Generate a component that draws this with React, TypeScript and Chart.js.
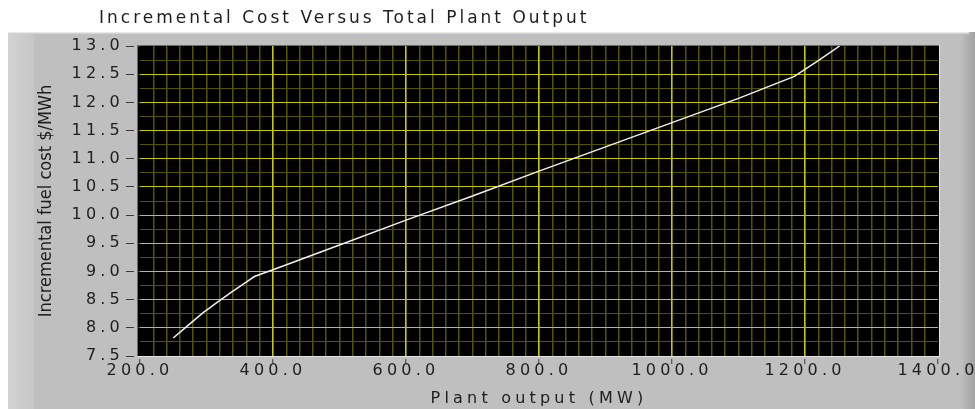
import React, { useEffect, useRef } from 'react';
import { Chart, registerables, layouts } from 'chart.js';

Chart.register(...registerables);

// ---- data ----
const outputMW = [250, 270, 295, 317, 337, 357, 372, 400, 500, 600, 700, 800, 900, 1000, 1100, 1184, 1220, 1252];
const incrementalCost = [7.82, 8.02, 8.27, 8.46, 8.63, 8.79, 8.91, 9.03, 9.47, 9.91, 10.34, 10.78, 11.21, 11.64, 12.07, 12.46, 12.74, 13.0];
const xTicks = [200, 400, 600, 800, 1000, 1200, 1400];
const yTicks = [7.5, 8.0, 8.5, 9.0, 9.5, 10.0, 10.5, 11.0, 11.5, 12.0, 12.5, 13.0];
const chartTitle = 'Incremental Cost Versus Total Plant Output';
const xTitle = 'Plant output (MW)';
const yTitle = 'Incremental fuel cost $/MWh';

// ---- styles ----
const FONT = "'DejaVu Sans', sans-serif";
const TEXT = '#1e1e1e';
const PANEL = '#bfbfbf';
const MAJOR = '#c8c800';
const MINOR = '#555500';
const TICK = '#3a3a3a';
const CLEAR = 'rgba(0,0,0,0)';
const TITLE_SPACING = '3px';
const AXIS_SPACING = '4.2px';

const xMin = xTicks[0];
const xMax = xTicks[xTicks.length - 1];
const yMin = yTicks[0];
const yMax = yTicks[yTicks.length - 1];

const isEdge = (v: number, lo: number, hi: number) => Math.abs(v - lo) < 1e-9 || Math.abs(v - hi) < 1e-9;

const panelPlugin: any = {
  id: 'panelLook',
  beforeInit(chart: any) {
    const box: any = {
      position: 'chartArea',
      options: {},
      weight: 0,
      fullSize: false,
      top: 0, left: 0, right: 0, bottom: 0, width: 0, height: 0,
      isHorizontal() { return true; },
      update() {},
      draw() {},
      _layers() {
        return [{ z: -0.5, draw() { chart.ctx.letterSpacing = TITLE_SPACING; } }];
      },
    };
    layouts.addBox(chart, box);
  },
  afterLayout(chart: any) {
    if (chart.titleBlock) {
      chart.titleBlock.left = 99;
      chart.titleBlock.right = chart.width;
    }
  },
  beforeDraw(chart: any) {
    const { ctx, width, height } = chart;
    const a = chart.chartArea;
    ctx.save();
    ctx.fillStyle = '#ffffff';
    ctx.fillRect(0, 0, width, height);
    ctx.fillStyle = PANEL;
    ctx.fillRect(8, 32, width - 8, height - 32);
    let g = ctx.createLinearGradient(8, 0, 34, 0);
    g.addColorStop(0, '#d3d3d3');
    g.addColorStop(1, '#c6c6c6');
    ctx.fillStyle = g;
    ctx.fillRect(8, 32, 26, height - 32);
    g = ctx.createLinearGradient(963, 0, width, 0);
    g.addColorStop(0, '#b9b9b9');
    g.addColorStop(1, '#a2a2a2');
    ctx.fillStyle = g;
    ctx.fillRect(963, 32, width - 963, height - 32);
    ctx.fillStyle = '#e8e8e8';
    ctx.fillRect(8, 32, width - 14, 1);
    ctx.fillStyle = '#d2d2d2';
    ctx.fillRect(8, 33, width - 14, 1);
    const L = Math.round(a.left), T = Math.round(a.top), R = Math.round(a.right), B = Math.round(a.bottom);
    ctx.fillStyle = '#000000';
    ctx.fillRect(L - 2, T, R + 1 - (L - 2), B - T);
    ctx.restore();
    ctx.letterSpacing = '0px';
  },
  beforeDatasetsDraw(chart: any) {
    const { ctx } = chart;
    const a = chart.chartArea;
    const L = Math.round(a.left), T = Math.round(a.top), R = Math.round(a.right), B = Math.round(a.bottom);
    ctx.save();
    ctx.fillStyle = PANEL;
    ctx.fillRect(L - 6, T - 6, 3, B - T + 12);
    ctx.fillRect(L - 6, B + 1, R - L + 12, 2);
    ctx.fillStyle = '#6a6a6a';
    ctx.fillRect(L - 3, T - 1, R - L + 5, 1);
    ctx.fillRect(L - 3, T - 1, 1, B - T + 2);
    ctx.fillStyle = '#e4e4e4';
    ctx.fillRect(R + 1, T - 1, 1, B - T + 2);
    ctx.fillRect(L - 3, B, R - L + 5, 1);
    ctx.restore();
  },
  afterDatasetsDraw(chart: any) {
    chart.ctx.letterSpacing = AXIS_SPACING;
  },
  afterDraw(chart: any) {
    chart.ctx.letterSpacing = '0px';
  },
};

export default function App() {
  const canvasRef = useRef<HTMLCanvasElement | null>(null);

  useEffect(() => {
    const canvas = canvasRef.current;
    if (!canvas) return;
    const points = outputMW.map((x, i) => ({ x, y: incrementalCost[i] }));
    const chart = new Chart(canvas, {
      type: 'scatter',
      data: {
        datasets: [
          {
            data: points,
            showLine: true,
            borderColor: '#f0f0f0',
            borderWidth: 1.5,
            pointRadius: 0,
            tension: 0,
          },
        ],
      },
      options: {
        responsive: false,
        devicePixelRatio: 1,
        animation: false,
        events: [],
        layout: { padding: { left: 0, right: 37, top: 0, bottom: 0 } },
        plugins: {
          legend: { display: false },
          tooltip: { enabled: false },
          title: {
            display: true,
            text: chartTitle,
            align: 'start',
            color: TEXT,
            font: { family: FONT, size: 17, weight: 'normal', lineHeight: 1.2 },
            padding: { top: 8.8, bottom: 16.8 },
          },
        },
        scales: {
          yMinor: {
            type: 'linear',
            position: 'left',
            weight: 1,
            min: yMin,
            max: yMax,
            ticks: { display: false, stepSize: 0.25 },
            grid: {
              z: -2,
              drawTicks: false,
              lineWidth: 1,
              color: (c: any) => (isEdge(c.tick.value, yMin, yMax) ? CLEAR : MINOR),
            },
            border: { display: false },
            afterFit: (s: any) => { s.width = 0; },
          },
          y: {
            type: 'linear',
            position: 'left',
            weight: 0,
            min: yMin,
            max: yMax,
            afterBuildTicks: (s: any) => { s.ticks = yTicks.map((v) => ({ value: v })); },
            ticks: {
              z: 1,
              padding: 2,
              color: TEXT,
              font: { family: FONT, size: 16, lineHeight: 1.2 },
              callback: (v: any) => Number(v).toFixed(1),
            },
            grid: {
              z: -1,
              lineWidth: 1,
              color: (c: any) => (isEdge(c.tick.value, yMin, yMax) ? CLEAR : MAJOR),
              tickColor: TICK,
              tickLength: 14,
              tickWidth: 1,
            },
            border: { display: false },
            title: {
              display: true,
              text: yTitle,
              color: TEXT,
              font: { family: "'DejaVu Sans Condensed', 'DejaVu Sans', sans-serif", size: 18, lineHeight: 1.2 },
              padding: { top: 35.2, bottom: 0 },
            },
            afterFit: (s: any) => { s.width = 140; },
          },
          x: {
            type: 'linear',
            position: 'bottom',
            weight: 0,
            min: xMin,
            max: xMax,
            afterBuildTicks: (s: any) => { s.ticks = xTicks.map((v) => ({ value: v })); },
            ticks: {
              z: 1,
              padding: -3,
              autoSkip: false,
              maxRotation: 0,
              minRotation: 0,
              color: TEXT,
              font: { family: FONT, size: 16, lineHeight: 1.2 },
              callback: (v: any) => Number(v).toFixed(1),
            },
            grid: {
              z: -1,
              lineWidth: 1.5,
              color: (c: any) => (isEdge(c.tick.value, xMin, xMax) ? CLEAR : MAJOR),
              tickColor: TICK,
              tickLength: 8,
              tickWidth: 1,
            },
            border: { display: false },
            afterFit: (s: any) => { s.height = 30; },
          },
          xMinor: {
            type: 'linear',
            position: 'bottom',
            weight: 1,
            min: xMin,
            max: xMax,
            ticks: { display: false, stepSize: 20 },
            grid: {
              z: -2,
              drawTicks: false,
              lineWidth: 1.5,
              color: (c: any) => (isEdge(c.tick.value, xMin, xMax) ? CLEAR : MINOR),
            },
            border: { display: false },
            afterFit: (s: any) => { s.height = 0; },
          },
          xTitle: {
            type: 'linear',
            position: 'bottom',
            weight: 2,
            min: xMin,
            max: xMax,
            ticks: { display: false },
            grid: { display: false, drawTicks: false, z: 1 },
            border: { display: false },
            title: {
              display: true,
              text: xTitle,
              color: TEXT,
              font: { family: FONT, size: 16, lineHeight: 1.2 },
              padding: { top: 0, bottom: 1 },
            },
            afterFit: (s: any) => { s.height = 23; },
          },
        },
      } as any,
      plugins: [panelPlugin],
    });
    return () => {
      chart.destroy();
    };
  }, []);

  return (
    <div style={{ position: 'absolute', left: 0, top: 0, width: 975, height: 409 }}>
      <canvas ref={canvasRef} width={975} height={409} style={{ display: 'block' }} />
    </div>
  );
}
